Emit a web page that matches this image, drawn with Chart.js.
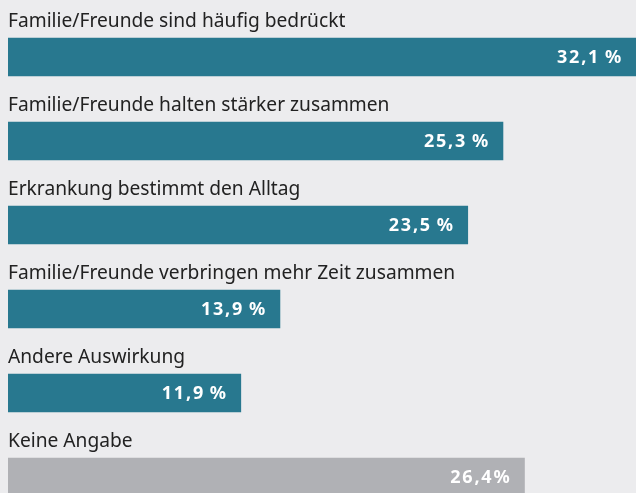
<!DOCTYPE html>
<html>
<head>
<meta charset="utf-8">
<script src="https://cdn.jsdelivr.net/npm/chart.js@4"></script>
<style>
  html, body { margin: 0; padding: 0; background: #ececee; overflow: hidden; }
  #wrap { width: 636px; height: 520px; }
</style>
</head>
<body>
<div id="wrap"><canvas id="chart"></canvas></div>
<script>
const categories = [
  "Familie/Freunde sind häufig bedrückt",
  "Familie/Freunde halten stärker zusammen",
  "Erkrankung bestimmt den Alltag",
  "Familie/Freunde verbringen mehr Zeit zusammen",
  "Andere Auswirkung",
  "Keine Angabe"
]
const values = [32.1, 25.3, 23.5, 13.9, 11.9, 26.4]
const valueLabels = ["32,1\u2009%", "25,3\u2009%", "23,5\u2009%", "13,9\u2009%", "11,9\u2009%", "26,4%"]
const teal = "#28788f"
const grey = "#b0b1b5"
const barColors = [teal, teal, teal, teal, teal, grey]
const fontFamily = "'Noto Sans', 'DejaVu Sans', sans-serif"

// labels above bars and values inside them
const barText = {
  id: "barText",
  afterDatasetsDraw(chart) {
    const ctx = chart.ctx
    const meta = chart.getDatasetMeta(0)
    ctx.save()
    meta.data.forEach((bar, i) => {
      const top = bar.y - bar.height / 2
      ctx.font = "19.2px " + fontFamily
      ctx.fillStyle = "#222222"
      ctx.textAlign = "left"
      ctx.textBaseline = "alphabetic"
      ctx.letterSpacing = "0px"
      ctx.fillText(categories[i], chart.chartArea.left, top - 11)

      ctx.font = "bold 18px " + fontFamily
      ctx.fillStyle = "#ffffff"
      ctx.textAlign = "right"
      ctx.textBaseline = "middle"
      ctx.letterSpacing = "1.8px"
      ctx.fillText(valueLabels[i], bar.x - 13, bar.y + 1)
    })
    ctx.restore()
  }
}

new Chart(document.getElementById("chart"), {
  type: "bar",
  data: {
    labels: categories,
    datasets: [{
      data: values,
      backgroundColor: barColors,
      barThickness: 38,
      borderWidth: 0
    }]
  },
  options: {
    indexAxis: "y",
    responsive: true,
    maintainAspectRatio: false,
    animation: false,
    layout: { padding: { left: 8, right: 0, top: 15, bottom: 1 } },
    plugins: {
      legend: { display: false },
      tooltip: { enabled: false }
    },
    scales: {
      x: { display: false, min: 0, max: 32.1 },
      y: { display: false }
    }
  },
  plugins: [barText]
})
</script>
</body>
</html>
